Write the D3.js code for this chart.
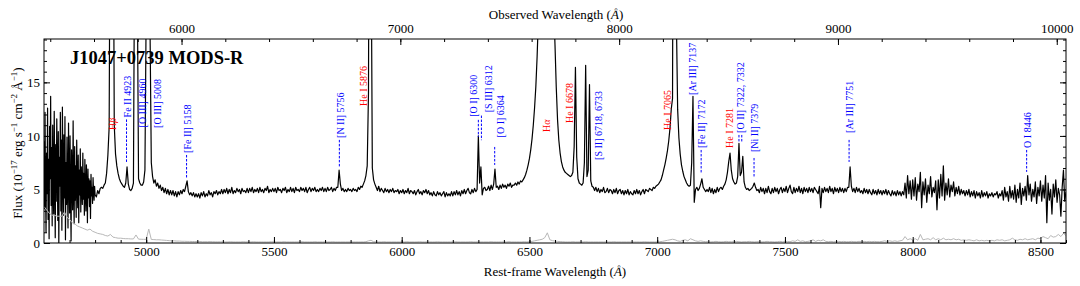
<!DOCTYPE html>
<html>
<head>
<meta charset="utf-8">
<script src="https://cdn.jsdelivr.net/npm/d3@7"></script>
<style>
  body { margin: 0; background: #fff; }
  svg { display: block; font-family: "Liberation Serif", "Times New Roman", serif; }
</style>
</head>
<body>
<svg id="chart" width="1080" height="286"></svg>
<script>
// J1047+0739 MODS-R spectrum, rest frame. Flux in 1e-17 erg/s/cm2/A.
// Noisy blue end on a fine grid, the rest on a 5 A grid (one row per 100 A).
const blueWl0 = 4600;
const blueStep = 2;
const blueFlux = [
  9.5,3.2,12.2,5.1,1.0,8.4,4.6,12.6,2.2,7.8,0.4,10.9,6.0,13.7,3.5,8.9,1.6,11.0,4.8,2.7,
  12.3,6.5,0.5,9.2,3.9,11.6,7.0,2.1,10.4,0.0,8.0,5.3,12.2,3.0,9.6,1.2,12.7,6.4,2.6,10.1,
  4.2,11.8,0.3,7.5,3.6,9.9,5.5,1.4,11.2,6.2,2.8,10.0,4.4,0.2,8.7,6.6,3.1,11.4,5.0,1.8,
  9.0,4.0,7.2,2.4,9.6,5.8,3.3,8.2,1.9,6.8,4.5,8.8,2.9,7.1,5.2,3.6,8.4,4.1,6.5,2.6,
  7.8,4.6,3.0,7.3,5.1,1.9,6.9,4.2,6.0,3.4,5.8,2.3,6.4,4.4,5.2,3.7,6.1,4.8,4.0,5.3
];

const restWl0 = 4800;
const fluxStep = 5;
const flux = [
  4.5,4.3,4.9,4.6,5.1,5.2,5.1,5.4,5.6,6.5,8.2,10.8,40,45,40,11.0,8.3,7.2,6.5,6.0,
  5.7,5.5,5.3,5.2,5.6,7.1,5.5,5.0,4.9,5.1,5.6,30,60,25,6.0,5.6,5.4,5.4,5.7,6.8,
  22,60,50,20,7.5,6.2,5.6,5.9,5.3,5.6,5.1,5.4,4.9,5.2,4.7,5.1,4.6,5.0,4.5,4.9,
  4.5,4.9,4.4,4.8,4.3,4.8,4.5,4.9,4.6,5.0,4.8,5.3,5.8,4.8,4.5,4.7,4.4,4.7,4.3,4.6,
  4.3,4.6,4.2,4.7,4.4,4.8,4.3,4.6,4.4,4.9,4.5,4.7,4.3,4.8,4.6,4.9,4.5,4.8,4.6,5.0,
  4.6,5.0,4.7,5.1,4.6,5.0,4.7,5.2,4.6,4.9,4.7,5.1,4.8,5.0,4.6,5.1,4.8,4.9,4.7,5.1,
  4.7,5.1,4.8,5.2,4.7,5.0,4.8,5.1,4.7,5.2,4.8,5.0,4.7,5.1,4.9,5.3,4.7,5.0,4.8,5.1,
  4.8,5.1,4.7,5.2,4.9,5.0,4.7,5.1,4.9,5.2,4.7,5.0,4.8,5.2,4.8,5.1,4.7,5.2,4.9,5.0,
  4.8,5.2,4.9,5.1,4.8,5.2,4.7,5.0,5.2,4.8,5.1,4.9,5.2,4.8,5.0,4.8,5.1,4.9,5.2,4.8,
  5.1,4.8,5.2,4.9,5.0,5.2,4.8,5.1,4.9,5.2,5.2,6.8,5.5,4.9,5.1,4.8,5.0,4.8,5.1,4.9,
  5.0,4.8,5.1,4.9,5.0,4.8,5.2,5.0,5.3,5.2,5.5,5.8,6.3,7.2,14,60,30,7.0,5.9,5.5,
  5.2,4.9,5.3,4.8,5.1,4.9,4.7,5.1,4.8,5.0,4.7,5.0,4.8,5.1,4.7,4.9,4.8,5.0,4.6,4.9,
  4.7,5.0,4.6,4.9,4.7,5.1,4.6,4.9,4.8,4.6,4.9,4.5,4.8,5.0,4.6,4.8,4.5,4.9,4.7,5.0,
  4.6,4.9,4.5,4.7,4.4,4.8,4.5,4.4,4.8,4.5,4.7,4.4,4.6,4.8,4.3,4.7,4.4,4.6,4.4,4.8,
  4.4,4.8,4.5,4.9,4.5,4.8,4.4,4.9,4.6,5.0,4.6,4.9,5.1,4.7,4.6,5.0,4.7,5.1,4.8,5.0,
  10.0,5.6,7.1,4.5,5.1,5.2,4.9,5.0,5.3,4.9,5.4,5.0,5.5,6.9,5.2,5.3,5.0,5.4,5.1,5.5,
  5.2,5.4,5.1,5.5,5.3,5.6,5.2,5.4,5.4,5.6,5.4,5.7,5.5,5.8,5.7,5.9,6.1,6.4,6.8,7.3,
  7.9,8.7,9.7,11.0,12.6,14.6,17.4,21,27,36,50,70,90,95,80,60,45,34,27,22,
  18.5,14.5,11.5,9.6,8.4,7.6,7.1,6.8,6.6,6.5,6.4,6.3,6.2,6.3,6.6,9.0,16.4,8.0,6.0,5.6,
  5.5,5.4,5.6,7.5,16.6,6.2,6.8,14.8,5.8,5.3,5.2,4.9,5.2,4.8,5.1,4.7,5.0,4.8,5.2,4.7,
  4.8,5.1,4.7,5.0,4.9,4.6,5.0,4.7,5.1,4.6,4.9,5.0,4.6,4.9,4.5,4.9,4.6,5.0,4.5,4.8,
  4.6,4.5,4.9,4.6,5.0,4.6,4.9,4.5,4.8,5.0,4.6,5.0,4.9,4.8,5.1,5.0,4.9,5.2,5.1,5.3,
  5.4,5.5,5.7,5.9,6.3,6.8,7.3,7.9,8.6,9.5,10.7,12.5,13.5,60,55,21,12.5,9.8,8.3,7.3,
  6.7,6.2,5.9,5.6,5.4,5.3,5.4,7.5,13.7,3.8,5.0,5.2,4.9,5.1,5.5,6.0,5.2,5.0,4.8,5.0,
  4.8,5.2,4.7,5.1,4.6,5.0,4.7,5.2,4.8,5.1,5.2,5.0,5.3,5.5,5.9,6.6,7.6,8.4,6.8,6.0,
  5.7,5.5,5.6,6.2,9.3,6.3,6.6,8.1,5.7,5.2,5.0,5.1,4.9,5.0,5.1,5.3,5.6,5.2,4.9,5.0,
  4.7,5.2,4.8,5.1,4.6,5.1,4.7,5.3,4.8,4.6,5.1,4.7,5.2,4.8,5.1,4.6,5.0,5.2,4.7,5.1,
  4.8,5.3,4.7,5.1,5.4,4.8,4.6,5.2,4.7,5.1,4.8,5.3,4.7,5.1,4.6,5.2,4.8,5.1,4.7,5.2,
  4.8,5.1,4.7,5.2,5.0,4.8,4.6,5.3,3.3,5.1,4.7,5.2,4.8,5.1,4.7,5.3,4.8,5.1,4.6,5.2,
  4.8,5.1,4.7,5.2,4.8,5.1,4.7,5.1,4.8,5.2,5.2,7.1,5.3,4.8,5.1,4.7,5.2,4.8,5.1,4.7,
  4.9,4.6,5.1,4.7,5.0,4.6,5.0,4.7,4.5,5.0,4.6,4.9,4.5,5.0,4.6,4.9,4.5,4.9,4.6,5.0,
  4.5,4.9,4.6,4.4,4.9,4.5,4.8,4.4,4.9,4.5,4.8,4.4,4.8,4.5,5.6,4.2,6.3,4.6,5.8,4.1,
  5.9,4.4,6.1,4.0,5.5,4.8,6.6,3.3,5.7,4.5,6.0,3.8,5.4,4.6,6.2,4.3,5.2,4.7,5.8,3.1,
  5.9,4.2,6.4,4.4,7.2,4.0,5.6,4.5,6.0,4.3,5.4,4.8,5.7,4.4,5.2,4.6,5.3,4.5,5.0,4.6,
  4.9,4.4,4.9,4.5,5.0,4.3,4.8,4.4,4.9,4.2,4.8,4.4,4.7,4.2,4.9,4.3,4.7,4.4,4.8,4.2,
  4.6,4.4,4.7,4.3,4.6,4.5,4.8,4.2,4.6,4.4,4.9,4.0,5.2,4.3,4.8,3.9,5.3,4.2,4.9,4.1,
  5.4,3.8,5.0,4.2,5.6,3.6,5.1,4.4,5.3,4.0,6.3,4.5,5.5,3.9,5.0,4.3,5.7,3.7,5.2,4.4,
  5.8,3.9,5.4,4.2,6.3,1.9,5.6,4.0,5.0,2.7,5.5,4.3,5.9,3.8,5.1,4.5,2.5,5.2,6.8,3.9,
  4.8
];

// 1-sigma error spectrum, 10 A grid from errWl0
const errWl0 = 4600;
const errStep = 10;
const fluxErr = [
  3.4,3.1,2.8,2.6,2.6,2.5,2.5,2.5,2.9,2.4,
  2.2,1.9,1.8,1.6,1.5,1.4,1.3,1.2,1.3,1.1,
  1.0,0.9,0.85,0.8,0.7,0.65,0.8,0.55,0.5,0.45,
  0.45,0.42,0.4,0.4,0.38,0.38,0.75,0.36,0.35,0.34,
  0.34,1.3,0.33,0.32,0.3,0.3,0.28,0.26,0.24,0.22,
  0.2,0.2,0.18,0.18,0.16,0.16,0.15,0.15,0.14,0.14,
  0.13,0.14,0.12,0.12,0.12,0.13,0.12,0.11,0.11,0.11,
  0.1,0.1,0.1,0.12,0.1,0.1,0.1,0.1,0.12,0.1,
  0.1,0.1,0.12,0.1,0.1,0.1,0.1,0.1,0.1,0.12,
  0.1,0.1,0.1,0.1,0.12,0.1,0.1,0.1,0.1,0.1,
  0.1,0.12,0.1,0.1,0.1,0.1,0.12,0.1,0.1,0.1,
  0.1,0.1,0.1,0.12,0.1,0.1,0.1,0.1,0.1,0.1,
  0.1,0.1,0.1,0.1,0.1,0.1,0.12,0.2,0.25,0.12,
  0.1,0.1,0.1,0.12,0.1,0.1,0.1,0.1,0.1,0.1,
  0.1,0.1,0.12,0.1,0.1,0.1,0.1,0.12,0.1,0.1,
  0.1,0.1,0.1,0.1,0.12,0.1,0.1,0.1,0.1,0.1,
  0.1,0.12,0.1,0.1,0.1,0.1,0.1,0.12,0.1,0.1,
  0.1,0.1,0.1,0.1,0.1,0.12,0.1,0.1,0.1,0.1,
  0.1,0.1,0.12,0.1,0.1,0.1,0.1,0.1,0.12,0.1,
  0.12,0.15,0.2,0.25,0.3,0.35,0.5,0.95,0.3,0.22,
  0.18,0.15,0.13,0.12,0.1,0.1,0.1,0.12,0.1,0.1,
  0.1,0.1,0.12,0.1,0.1,0.1,0.1,0.1,0.1,0.1,
  0.1,0.1,0.1,0.12,0.1,0.1,0.1,0.1,0.1,0.1,
  0.1,0.1,0.1,0.1,0.1,0.12,0.1,0.1,0.1,0.1,
  0.1,0.12,0.15,0.2,0.25,0.3,0.35,0.3,0.2,0.15,
  0.25,0.3,0.2,0.4,0.3,0.2,0.15,0.2,0.15,0.12,
  0.12,0.1,0.12,0.15,0.12,0.1,0.12,0.15,0.12,0.12,
  0.12,0.15,0.12,0.1,0.12,0.12,0.15,0.12,0.1,0.12,
  0.12,0.1,0.12,0.15,0.12,0.12,0.1,0.12,0.15,0.12,
  0.12,0.15,0.12,0.2,0.15,0.3,0.15,0.2,0.12,0.15,
  0.2,0.3,0.15,0.25,0.2,0.3,0.15,0.12,0.15,0.12,
  0.12,0.15,0.12,0.15,0.12,0.12,0.15,0.12,0.12,0.15,
  0.12,0.15,0.12,0.15,0.12,0.15,0.12,0.12,0.15,0.2,
  0.15,0.2,0.15,0.2,0.15,0.2,0.25,0.6,0.3,0.4,
  0.3,0.4,0.25,0.8,0.3,0.35,0.4,0.3,0.5,0.3,
  0.4,0.3,0.45,0.3,0.35,0.3,0.4,0.3,0.35,0.25,
  0.3,0.25,0.3,0.25,0.2,0.3,0.2,0.25,0.2,0.25,
  0.2,0.25,0.2,0.3,0.25,0.3,0.2,0.25,0.3,0.45,
  0.3,0.25,0.35,0.3,0.4,0.3,0.35,0.4,0.3,0.45,
  0.4,0.6,0.5,0.4,0.7,0.55,0.6,0.8,0.6,0.9,
  0.7
];

const redshift = 0.1677;
const restRange = [4600, 8600];
const fluxRange = [0, 19.05];
const restTickValues = [5000, 5500, 6000, 6500, 7000, 7500, 8000, 8500];
const obsTickValues = [6000, 7000, 8000, 9000, 10000];
const fluxTickValues = [0, 5, 10, 15];

// line identifications: text centre wavelength, flux where the text starts,
// optional dashed markers (wavelengths + flux span)
const redLabels = [
  { name: "H", greek: "β", at: 4866, from: 10.56 },
  { name: "He I 5876", at: 5848, from: 12.8 },
  { name: "H", greek: "α", at: 6563, from: 10.37 },
  { name: "He I 6678", at: 6655, from: 11.2 },
  { name: "He I 7065", at: 7040, from: 10.56 },
  { name: "He I 7281", at: 7281, from: 8.88 }
];
const blueLabels = [
  { name: "Fe II 4923", at: 4925, from: 11.73, marks: [4923], span: [11.54, 7.57] },
  { name: "[O III] 4960", at: 4984, from: 10.79 },
  { name: "[O III] 5008", at: 5042, from: 10.75 },
  { name: "[Fe II] 5158", at: 5160, from: 8.41, marks: [5158], span: [8.22, 6.07] },
  { name: "[N II] 5756", at: 5757, from: 9.81, marks: [5756], span: [9.63, 7.10] },
  { name: "[O I] 6300", at: 6279, from: 11.78, marks: [6300], span: [11.5, 9.9] },
  { name: "[S III] 6312", at: 6338, from: 12.2, marks: [6312], span: [11.9, 9.6] },
  { name: "[O I] 6364", at: 6383, from: 9.86, marks: [6364], span: [8.97, 7.29] },
  { name: "[S II] 6718, 6733", at: 6770, from: 7.76 },
  { name: "[Ar III] 7137", at: 7138, from: 13.83 },
  { name: "[Fe II] 7172", at: 7172, from: 8.88, marks: [7172], span: [8.69, 6.54] },
  { name: "[O II] 7322, 7332", at: 7326, from: 10.28, marks: [7320, 7331], span: [10.09, 9.44] },
  { name: "[Ni II] 7379", at: 7379, from: 8.5, marks: [7379], span: [7.94, 6.07] },
  { name: "[Ar III] 7751", at: 7751, from: 10.28, marks: [7751], span: [9.63, 7.57] },
  { name: "O I 8446", at: 8447, from: 8.88, marks: [8446], span: [8.69, 6.64] }
];

const serif = "Liberation Serif, Times New Roman, serif";
const margin = { top: 39, right: 14, bottom: 43, left: 44 };
const width = 1080, height = 286;

const svg = d3.select("#chart");

const x = d3.scaleLinear().domain(restRange).range([margin.left, width - margin.right]);
const xObs = d3.scaleLinear()
  .domain(restRange.map((d) => d * (1 + redshift)))
  .range([margin.left, width - margin.right]);
const y = d3.scaleLinear().domain(fluxRange).range([height - margin.bottom, margin.top]);

svg.append("defs").append("clipPath").attr("id", "plot-clip")
  .append("rect")
  .attr("x", margin.left).attr("y", margin.top)
  .attr("width", width - margin.left - margin.right)
  .attr("height", height - margin.top - margin.bottom);

const spec = blueFlux.map((f, i) => [blueWl0 + i * blueStep, f])
  .concat(flux.map((f, i) => [restWl0 + i * fluxStep, f]));
const err = fluxErr.map((f, i) => [errWl0 + i * errStep, f]);

const line = d3.line().x((d) => x(d[0])).y((d) => y(d[1]));

const plot = svg.append("g").attr("clip-path", "url(#plot-clip)");

plot.append("path")
  .datum(spec)
  .attr("d", line)
  .attr("fill", "none")
  .attr("stroke", "#000")
  .attr("stroke-width", 1.2)
  .attr("stroke-linejoin", "round");

plot.append("path")
  .datum(err)
  .attr("d", line)
  .attr("fill", "none")
  .attr("stroke", "#b8b8b8")
  .attr("stroke-width", 1);

// axes (ticks point inwards)
function styleAxis(g) {
  g.attr("font-family", serif);
  g.select(".domain").remove();
  g.selectAll("line").attr("stroke", "#000");
  g.selectAll("text").attr("font-size", 13).attr("fill", "#000");
}

const bottom = height - margin.bottom;
const right = width - margin.right;

svg.append("g").attr("transform", `translate(0,${bottom})`)
  .call(d3.axisBottom(x).tickValues(d3.range(4700, 8601, 100)).tickSize(-3).tickFormat(""))
  .call(styleAxis);
svg.append("g").attr("transform", `translate(0,${bottom})`)
  .call(d3.axisBottom(x).tickValues(restTickValues).tickSize(-6).tickPadding(4).tickFormat(d3.format("d")))
  .call(styleAxis);

svg.append("g").attr("transform", `translate(0,${margin.top})`)
  .call(d3.axisTop(xObs).tickValues(d3.range(5400, 10001, 200)).tickSize(-3).tickFormat(""))
  .call(styleAxis);
svg.append("g").attr("transform", `translate(0,${margin.top})`)
  .call(d3.axisTop(xObs).tickValues(obsTickValues).tickSize(-6).tickPadding(6).tickFormat(d3.format("d")))
  .call(styleAxis);

svg.append("g").attr("transform", `translate(${margin.left},0)`)
  .call(d3.axisLeft(y).tickValues(d3.range(1, 20)).tickSize(-3).tickFormat(""))
  .call(styleAxis);
svg.append("g").attr("transform", `translate(${margin.left},0)`)
  .call(d3.axisLeft(y).tickValues(fluxTickValues).tickSize(-6).tickPadding(4).tickFormat(d3.format("d")))
  .call(styleAxis);

svg.append("g").attr("transform", `translate(${right},0)`)
  .call(d3.axisRight(y).tickValues(d3.range(1, 20)).tickSize(-3).tickFormat(""))
  .call(styleAxis);
svg.append("g").attr("transform", `translate(${right},0)`)
  .call(d3.axisRight(y).tickValues(fluxTickValues).tickSize(-6).tickFormat(""))
  .call(styleAxis);

// frame
svg.append("rect")
  .attr("x", margin.left).attr("y", margin.top)
  .attr("width", right - margin.left).attr("height", bottom - margin.top)
  .attr("fill", "none").attr("stroke", "#000").attr("stroke-width", 1);

// axis titles
const xTitle = svg.append("text")
  .attr("x", (margin.left + right) / 2).attr("y", 276)
  .attr("text-anchor", "middle").attr("font-size", 13).attr("font-family", serif);
xTitle.append("tspan").text("Rest-frame Wavelength (");
xTitle.append("tspan").attr("font-style", "italic").text("Å");
xTitle.append("tspan").text(")");

const topTitle = svg.append("text")
  .attr("x", 556).attr("y", 19)
  .attr("text-anchor", "middle").attr("font-size", 13).attr("font-family", serif);
topTitle.append("tspan").text("Observed Wavelength (");
topTitle.append("tspan").attr("font-style", "italic").text("Å");
topTitle.append("tspan").text(")");

const yTitle = svg.append("text")
  .attr("transform", `translate(22,${(margin.top + bottom) / 2 + 2}) rotate(-90)`)
  .attr("text-anchor", "middle").attr("font-size", 13).attr("font-family", serif);
const yParts = [["Flux (10", ""], ["−17", "sup"], [" erg s", ""], ["−1", "sup"],
  [" cm", ""], ["−2", "sup"], [" Å", ""], ["−1", "sup"], [")", ""]];
let raised = false;
yParts.forEach(([t, kind]) => {
  const ts = yTitle.append("tspan").text(t);
  if (kind === "sup") {
    ts.attr("font-size", 9).attr("dy", raised ? 0 : -5);
    raised = true;
  } else {
    ts.attr("dy", raised ? 5 : 0);
    raised = false;
  }
});

// title
svg.append("text")
  .attr("x", 70).attr("y", 64)
  .attr("font-size", 18.5).attr("font-weight", "bold").attr("font-family", serif)
  .text("J1047+0739 MODS-R");

// line labels
function drawLabels(labels, colour) {
  const g = svg.append("g").attr("fill", colour).attr("font-family", serif);
  labels.forEach((d) => {
    const t = g.append("text")
      .attr("transform", `translate(${x(d.at)},${y(d.from)}) rotate(-90)`)
      .attr("dominant-baseline", "central")
      .attr("font-size", 10);
    t.append("tspan").text(d.name);
    if (d.greek) t.append("tspan").attr("font-style", "italic").text(d.greek);
    (d.marks || []).forEach((wl) => {
      g.append("line")
        .attr("x1", x(wl)).attr("x2", x(wl))
        .attr("y1", y(d.span[0])).attr("y2", y(d.span[1]))
        .attr("stroke", colour).attr("stroke-width", 1)
        .attr("stroke-dasharray", "2.5,1.5");
    });
  });
}
drawLabels(redLabels, "#ff0000");
drawLabels(blueLabels, "#0000ff");
</script>
</body>
</html>
